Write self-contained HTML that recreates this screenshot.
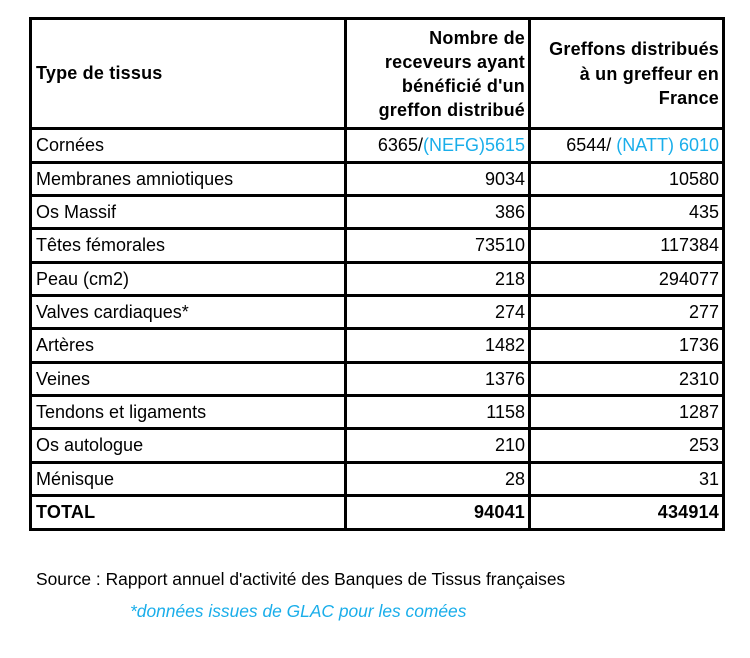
<!DOCTYPE html>
<html><head><meta charset="utf-8"><style>
body{margin:0;width:750px;height:658px;background:#fff;position:relative;font-family:"Liberation Sans",Arial,sans-serif;color:#000;overflow:hidden}
.h{position:absolute;left:29px;width:696px;height:3px;background:#000}
.v{position:absolute;top:17px;height:514px;width:3px;background:#000}
.t{position:absolute;font-size:18px;line-height:20px;white-space:nowrap}
.r{text-align:right}
.b{font-weight:bold;letter-spacing:0.2px}
.c{color:#1aaeea}
</style></head><body>
<div class="h" style="top:17px"></div>
<div class="h" style="top:127px"></div>
<div class="h" style="top:161px"></div>
<div class="h" style="top:194px"></div>
<div class="h" style="top:227px"></div>
<div class="h" style="top:261px"></div>
<div class="h" style="top:294px"></div>
<div class="h" style="top:327px"></div>
<div class="h" style="top:361px"></div>
<div class="h" style="top:394px"></div>
<div class="h" style="top:427px"></div>
<div class="h" style="top:461px"></div>
<div class="h" style="top:494px"></div>
<div class="h" style="top:528px"></div>
<div class="v" style="left:29px"></div>
<div class="v" style="left:344px"></div>
<div class="v" style="left:528px"></div>
<div class="v" style="left:722px"></div>

<div class="t b" style="left:36px;top:63px">Type de tissus</div>
<div class="t b r" style="left:346px;width:179px;top:26px;line-height:24px">Nombre de<br>receveurs ayant<br>bénéficié d'un<br>greffon distribué</div>
<div class="t b r" style="left:530px;width:189px;top:37px;line-height:24.5px">Greffons distribués<br>à un greffeur en<br>France</div>

<div class="t" style="left:36px;top:135px">Cornées</div>
<div class="t r" style="left:346px;width:179px;top:135px">6365/<span class="c">(NEFG)5615</span></div>
<div class="t r" style="left:530px;width:189px;top:135px">6544/ <span class="c">(NATT) 6010</span></div>

<div class="t" style="left:36px;top:169px">Membranes amniotiques</div>
<div class="t r" style="left:348px;width:177px;top:169px">9034</div>
<div class="t r" style="left:532px;width:187px;top:169px">10580</div>

<div class="t" style="left:36px;top:202px">Os Massif</div>
<div class="t r" style="left:348px;width:177px;top:202px">386</div>
<div class="t r" style="left:532px;width:187px;top:202px">435</div>

<div class="t" style="left:36px;top:235px">Têtes fémorales</div>
<div class="t r" style="left:348px;width:177px;top:235px">73510</div>
<div class="t r" style="left:532px;width:187px;top:235px">117384</div>

<div class="t" style="left:36px;top:269px">Peau (cm2)</div>
<div class="t r" style="left:348px;width:177px;top:269px">218</div>
<div class="t r" style="left:532px;width:187px;top:269px">294077</div>

<div class="t" style="left:36px;top:302px">Valves cardiaques*</div>
<div class="t r" style="left:348px;width:177px;top:302px">274</div>
<div class="t r" style="left:532px;width:187px;top:302px">277</div>

<div class="t" style="left:36px;top:335px">Artères</div>
<div class="t r" style="left:348px;width:177px;top:335px">1482</div>
<div class="t r" style="left:532px;width:187px;top:335px">1736</div>

<div class="t" style="left:36px;top:369px">Veines</div>
<div class="t r" style="left:348px;width:177px;top:369px">1376</div>
<div class="t r" style="left:532px;width:187px;top:369px">2310</div>

<div class="t" style="left:36px;top:402px">Tendons et ligaments</div>
<div class="t r" style="left:348px;width:177px;top:402px">1158</div>
<div class="t r" style="left:532px;width:187px;top:402px">1287</div>

<div class="t" style="left:36px;top:435px">Os autologue</div>
<div class="t r" style="left:348px;width:177px;top:435px">210</div>
<div class="t r" style="left:532px;width:187px;top:435px">253</div>

<div class="t" style="left:36px;top:469px">Ménisque</div>
<div class="t r" style="left:348px;width:177px;top:469px">28</div>
<div class="t r" style="left:532px;width:187px;top:469px">31</div>

<div class="t b" style="left:36px;top:502px">TOTAL</div>
<div class="t b r" style="left:348px;width:177px;top:502px">94041</div>
<div class="t b r" style="left:532px;width:187px;top:502px">434914</div>

<div class="t" style="left:36px;top:569px;font-size:17.4px">Source : Rapport annuel d'activité des Banques de Tissus françaises</div>
<div class="t c" style="left:130px;top:601px;font-size:17.4px;font-style:italic">*données issues de GLAC pour les comées</div>
</body></html>
